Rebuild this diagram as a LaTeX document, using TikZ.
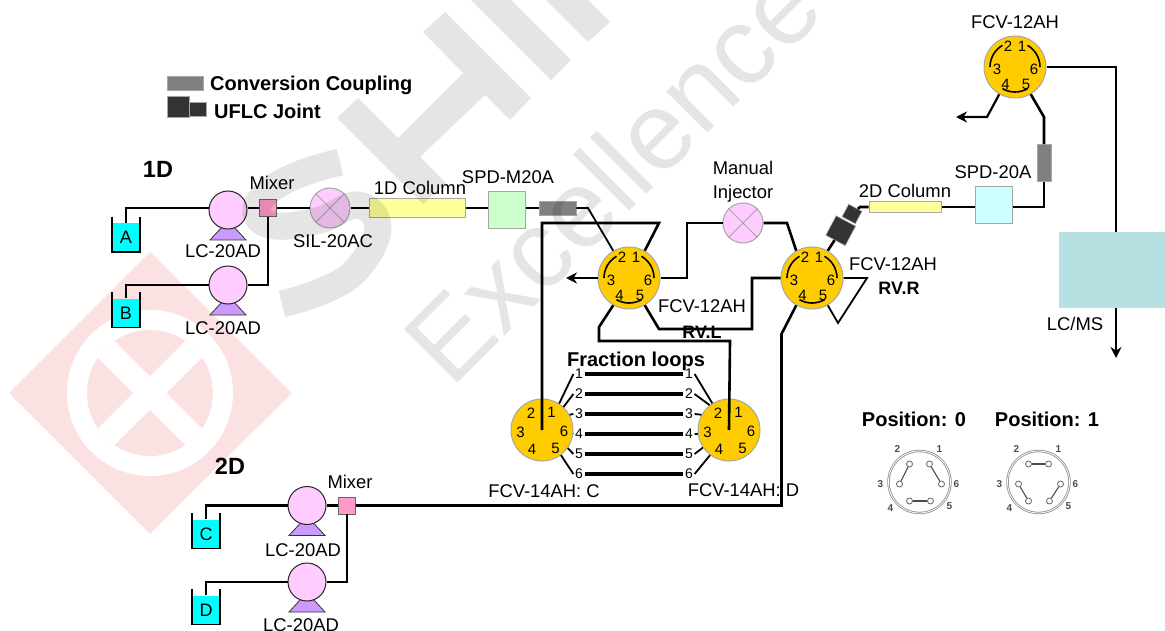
\documentclass[tikz,border=0pt]{standalone}
\usepackage{fontspec}
\setmainfont{Liberation Sans}
\usepackage{xcolor}
\usetikzlibrary{shapes,arrows,arrows.meta,positioning,calc,fit,backgrounds}
\definecolor{valvegold}{HTML}{FFCC00}
\definecolor{pumppink}{HTML}{FFCCFF}
\definecolor{footviolet}{HTML}{CC99FF}
\definecolor{mixerrose}{HTML}{FF99CC}
\definecolor{bottlecyan}{HTML}{00FFFF}
\definecolor{edgegray}{HTML}{A6A6A6}
\definecolor{logopink}{HTML}{FCE1E2}
\definecolor{msteal}{HTML}{B7E0E2}
\definecolor{detgreen}{HTML}{CCFFCC}
\definecolor{detcyan}{HTML}{CCFFFF}
\definecolor{colyellow}{HTML}{FFFF99}
\tikzset{
lbl/.style={inner sep=0pt,font=\fontsize{18.4}{24}\selectfont,align=center},
boldlbl/.style={inner sep=0pt,font=\fontsize{20}{24}\selectfont\bfseries},
rvlbl/.style={inner sep=0pt,font=\fontsize{18}{24}\selectfont\bfseries},
portnum/.style={inner sep=0pt,font=\fontsize{15}{18}\selectfont},
loopnum/.style={inner sep=1.5pt,font=\fontsize{14}{16}\selectfont},
schemnum/.style={inner sep=0pt,text=black!70,font=\fontsize{10}{12}\selectfont\bfseries},
valvenode/.style={circle,draw=edgegray,line width=1pt,fill=valvegold,minimum size=62pt,inner sep=0pt},
pumpbody/.style={circle,draw=black!85,line width=1pt,fill=pumppink,minimum size=38pt,inner sep=0pt},
pumpfoot/.style={draw=black!80,line width=.8pt,fill=footviolet},
crossnode/.style={circle,cross out,draw=edgegray,line width=1pt,minimum size=28pt,inner sep=0pt},
crossdisc/.style={circle,draw=edgegray,line width=1pt,fill=pumppink,minimum size=40pt,inner sep=0pt},
mixerbox/.style={rectangle,draw=black!60,line width=.8pt,fill=mixerrose,minimum width=17pt,minimum height=17pt,inner sep=0pt},
bottlebox/.style={rectangle,fill=bottlecyan,minimum width=27.5pt,minimum height=29pt,inner sep=0pt,font=\fontsize{18}{20}\selectfont},
unitbox/.style={rectangle,draw=edgegray,line width=1pt,minimum size=37.5pt,inner sep=0pt},
colbox/.style={rectangle,draw=edgegray,line width=1pt,fill=colyellow,inner sep=0pt},
couplebox/.style={rectangle,draw=edgegray,line width=.6pt,fill=black!50,inner sep=0pt},
jointbox/.style={rectangle,draw=edgegray,line width=.6pt,fill=black!80,inner sep=0pt},
pipe/.style={line width=2.6pt,black},
thinpipe/.style={line width=1.8pt,black},
looppipe/.style={line width=3.2pt,black},
flowarr/.style={line width=2.2pt,black,-{Stealth[length=11pt,width=11pt]}},
schemring/.style={circle,draw=black!45,double=white,double distance=.8pt,line width=.8pt,minimum size=62pt,inner sep=0pt},
schemport/.style={circle,draw=black!55,line width=.9pt,fill=white,minimum size=6pt,inner sep=0pt},
schemlink/.style={line width=1.1pt,black!70},
markwater/.style={text=black,text opacity=.1,inner sep=0pt},
markshape/.style={fill=black,fill opacity=.1}
}
\begin{document}
\begin{tikzpicture}[x=1pt,y=-1pt]
\useasboundingbox (0,0) rectangle (1165,631);
% red logo behind everything
\fill[logopink] (150,252) -- (292,393) -- (150,534) -- (9,393) -- cycle;
\fill[white] (150,393) circle[radius=83pt];
\begin{scope}
\clip (150,393) circle[radius=63pt];
\fill[logopink] (150,393) circle[radius=63pt];
\draw[white,line width=23.6pt] (90,333) -- (210,453) (210,333) -- (90,453);
\end{scope}
% legend
\node[couplebox,minimum width=36pt,minimum height=14pt] (legcouple) at (185,83) {};
\node[boldlbl,anchor=west] (legcoupletxt) at (210,85) {Conversion Coupling};
\node[jointbox,minimum width=22pt,minimum height=21pt] (legjointa) at (178,107) {};
\node[jointbox,minimum width=17pt,minimum height=14pt] (legjointb) at (197.5,109) {};
\node[boldlbl,anchor=west] (legjointtxt) at (214,111) {UFLC Joint};
\node[boldlbl,font=\fontsize{23.5}{26}\selectfont\bfseries] (lab1d) at (158,169) {1D};
\node[boldlbl,font=\fontsize{23.5}{26}\selectfont\bfseries] (lab2d) at (230,466) {2D};
% bottles
\foreach \b/\x/\y/\t in {bota/126/237.5/A,botb/126/313/B,botc/206/534/C,botd/206/610/D} {
  \node[bottlebox] (\b) at (\x,\y) {\t};
  \draw[line width=1.5pt] ($(\b.north west)+(0,-6)$) -- (\b.south west) -- (\b.south east) -- ($(\b.north east)+(0,-6)$);
}
% pumps
\foreach \p/\x/\y in {pumpa/228/210,pumpb/228/285,pumpc/307/505.5,pumpd/307/582} {
  \draw[pumpfoot] (\x-6,\y+17) -- (\x-18,\y+30) -- (\x+18,\y+30) -- (\x+6,\y+17) -- cycle;
  \node[pumpbody] (\p) at (\x,\y) {};
}
\node[lbl] (lcb1) at (223,251) {LC-20AD};
\node[lbl] (lcb2) at (223,328) {LC-20AD};
\node[lbl] (lcb3) at (303,550) {LC-20AD};
\node[lbl] (lcb4) at (301,625) {LC-20AD};
\node[mixerbox] (mixa) at (268,208) {};
\node[mixerbox] (mixb) at (347,505.5) {};
\node[lbl] (mixalab) at (272,183) {Mixer};
\node[lbl] (mixblab) at (350,482) {Mixer};
% injectors
\node[crossdisc] (sil) at (330,208) {};
\node[crossnode] (silx) at (sil) {};
\node[lbl] (sillab) at (333,241) {SIL-20AC};
\node[crossdisc] (inj) at (743,223) {};
\node[crossnode] (injx) at (inj) {};
\node[lbl] (injlab) at (743,182) {Manual\\Injector};
% columns and detectors
\node[colbox,minimum width=96pt,minimum height=19pt] (col1) at (417,208) {};
\node[lbl] (col1lab) at (420,188) {1D Column};
\node[unitbox,fill=detgreen] (spdm) at (507,210) {};
\node[lbl] (spdmlab) at (508,177) {SPD-M20A};
\node[couplebox,minimum width=37pt,minimum height=14pt] (cpla) at (557.5,208) {};
\node[colbox,minimum width=72pt,minimum height=11pt] (col2) at (905,207) {};
\node[lbl] (col2lab) at (905,191) {2D Column};
\node[unitbox,fill=detcyan] (spdb) at (994,205) {};
\node[lbl] (spdblab) at (993,172) {SPD-20A};
\node[couplebox,minimum width=14pt,minimum height=37pt] (cplb) at (1044,163) {};
\node[jointbox,rotate=62,minimum width=22pt,minimum height=22pt] (jointa) at (840.7,230.7) {};
\node[jointbox,rotate=62,minimum width=14pt,minimum height=15pt] (jointb) at (852,214) {};
\node[rectangle,fill=msteal,minimum width=106pt,minimum height=76pt,inner sep=0pt] (lcms) at (1112,270) {};
\node[lbl] (lcmslab) at (1075,324) {LC/MS};
% valves
\foreach \v/\x/\y in {topv/1015/67,rvl/629/278,rvr/812/278} {
  \node[valvenode] (\v) at (\x,\y) {};
  \foreach \n/\dx/\dy in {1/7/-21,2/-7/-21,3/-18/2,4/-9.5/17,5/11/17,6/19/2}
    \node[portnum] (\v\n) at ($(\v)+(\dx,\dy)$) {\n};
  \draw[line width=1.6pt] ($(\v)+(180:25pt)$) arc[start angle=180,end angle=120,radius=25pt];
  \draw[line width=1.6pt] ($(\v)+(60:25pt)$) arc[start angle=60,end angle=0,radius=25pt];
  \draw[line width=1.6pt] ($(\v)+(240:25pt)$) arc[start angle=240,end angle=300,radius=25pt];
}
\foreach \v/\x/\y in {cval/542/430,dval/729/430} {
  \node[valvenode] (\v) at (\x,\y) {};
  \foreach \n/\dx/\dy in {1/9.5/-18,2/-11/-17,3/-21.5/2,4/-10/19,5/13.5/18,6/22/1}
    \node[portnum] (\v\n) at ($(\v)+(\dx,\dy)$) {\n};
}
\node[lbl] (toplab) at (1015,22) {FCV-12AH};
\node[lbl] (rvllab) at (702,306) {FCV-12AH};
\node[rvlbl] (rvlbold) at (702,332) {RV.L};
\node[lbl] (rvrlab) at (893,264) {FCV-12AH};
\node[rvlbl] (rvrbold) at (899,288) {RV.R};
\node[lbl] (clab) at (544,491) {FCV-14AH: C};
\node[lbl] (dlab) at (743.5,490) {FCV-14AH: D};
\node[boldlbl] (loopslab) at (636,361) {Fraction loops};
% pipes 1D
\draw[thinpipe] (bota.north) -- (126,208) -- (pumpa.west |- mixa.west);
\draw[pipe] (botb.north) -- (126,285) -- (pumpb.west);
\draw[thinpipe] (pumpa.east |- mixa.west) -- (mixa.west);
\draw[thinpipe] (pumpb.east) -| (mixa.south);
\draw[thinpipe] (mixa.east) -- (sil.west);
\draw[thinpipe] (sil.east) -- (col1.west);
\draw[thinpipe] (col1.east) -- (spdm.west |- col1.east);
\draw[thinpipe] (spdm.east |- cpla.west) -- (cpla.west);
\draw[thinpipe] (cpla.east) -- (588,208) -- (rvl.120);
% pipes 2D
\draw[pipe] (botc.north) -- (206,505.5) -- (pumpc.west);
\draw[pipe] (botd.north) -- (206,582) -- (pumpd.west);
\draw[pipe] (pumpc.east) -- (mixb.west);
\draw[pipe] (pumpd.east) -| (mixb.south);
\draw[pipe] (mixb.east) -- (781.5,505.5) -- (781.5,334) -- (rvr.240);
% valve to valve
\draw[pipe] (rvl.60) -- (659,223) -- (542,223) -- (cval.center);
\draw[flowarr] (rvl.west) -- (566,278);
\draw[pipe] (rvl.east) -- (687,278) -- (687,223) -- (inj.west);
\draw[pipe] (inj.east) -- (787,223) -- (rvr.120);
\draw[pipe] (rvl.240) -- (599,327) -- (599,341) -- (730,341) -- (dval.center);
\draw[pipe] (rvl.300) -- (659,329) -- (752,329) -- (752,278) -- (rvr.west);
\draw[thinpipe] (rvr.east) -- (867,278) -- (838,323) -- (rvr.300);
\draw[pipe] (rvr.60) -- (jointa);
\draw[pipe] (jointb) -- (860,207) -- (col2.west);
\draw[pipe] (col2.east) -- (spdb.west |- col2.east);
\draw[pipe] (spdb.east |- col2.east) -- (1044,207) -- (cplb.south);
\draw[pipe] (cplb.north) -- (1044,117) -- (topv.300);
\draw[flowarr] (topv.240) -- (987,117) -- (956,117);
\coordinate (msin) at (1116,232);
\coordinate (msout) at (1116,308);
\coordinate (msend) at (1116,358);
\draw[pipe] (topv.east) -| (msin);
\draw[flowarr] (msout) -- (msend);
% fraction loops
\foreach \n/\yy/\ca/\da in {1/374/57/122,2/394/47/128,3/414/29/151,4/434/-7/187,5/454/-35/214,6/474/-53/233} {
  \node[loopnum] (cn\n) at (579,\yy) {\n};
  \node[loopnum] (dn\n) at (689,\yy) {\n};
  \draw[looppipe] (cn\n) -- (dn\n);
  \draw[pipe,line width=1.8pt] (cval.\ca) -- (cn\n.west);
  \draw[pipe,line width=1.8pt] (dval.\da) -- (dn\n.east);
}
% position schematics
\node[boldlbl] (posalab) at (914,419) {Position: 0};
\node[boldlbl] (posblab) at (1047,419) {Position: 1};
\foreach \sch/\x in {posa/919.5,posb/1038.5} {
  \node[schemring] (\sch) at (\x,482) {};
  \foreach \n/\dx/\dy/\lx/\ly in {1/10/-18/20/-33,2/-10/-18/-22/-33,3/-20/2/-39/2,4/-10/19/-29/26,5/11/19/30/24,6/22/2/37/2} {
    \node[schemport] (\sch-p\n) at ($(\sch)+(\dx,\dy)$) {};
    \node[schemnum] (\sch-t\n) at ($(\sch)+(\lx,\ly)$) {\n};
  }
}
\foreach \a/\b in {2/3,1/6,4/5} \draw[schemlink] (posa-p\a) -- (posa-p\b);
\foreach \a/\b in {2/1,3/4,6/5} \draw[schemlink] (posb-p\a) -- (posb-p\b);
% grey watermark on top
\fill[markshape] (337,118) -- (358,98) -- (398,138) -- (463,73) -- (423,32) -- (445,12)
  -- (531,98) -- (510,120) -- (485,95) -- (420,157) -- (446,183) -- (423,204) -- cycle;
\fill[markshape] (551,80) -- (571,60) -- (511,0) -- (471,0) -- cycle;
\fill[markshape] (588,42) -- (610,22) -- (588,0) -- (546,0) -- cycle;
\draw[line width=27pt,black,draw opacity=.1] plot[smooth,tension=.7] coordinates
  {(340,162) (300,174) (268,192) (256,213) (275,226) (320,220) (358,205) (378,228) (358,268) (325,290) (282,304)};
\node[markwater,rotate=45,anchor=base west,font=\fontsize{110}{110}\selectfont] (markword) at (451.6,389.4) {Excellence};
\end{tikzpicture}
\end{document}
